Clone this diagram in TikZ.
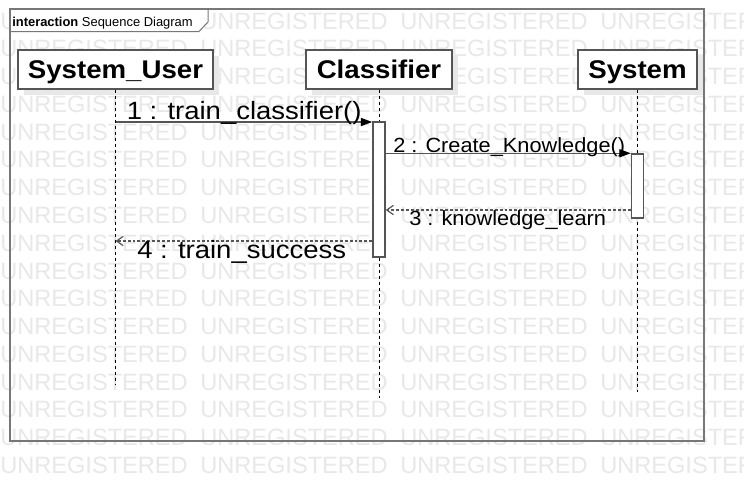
\documentclass[tikz,border=0pt]{standalone}
\usepackage{fontspec}
\setmainfont{Liberation Sans}
\newfontfamily\headfont[FakeStretch=1.08]{Liberation Sans}
\newfontfamily\bigmsgfont[FakeStretch=1.1]{Liberation Sans}
\newfontfamily\msgfont[FakeStretch=1.06]{Liberation Sans}
\usetikzlibrary{arrows.meta,shadows}
\definecolor{Frame}{HTML}{777777}
\definecolor{Edge}{HTML}{555555}
\definecolor{Shade}{HTML}{E8E8E8}
\definecolor{Stamp}{HTML}{E8E8E8}

\begin{document}
\begin{tikzpicture}[x=0.75pt, y=-0.75pt,
    head/.style={draw=Edge, line width=1.1pt, fill=white, inner sep=0pt, minimum height=29.25pt,
      text height=13.75pt, text depth=0pt,
      font=\headfont\bfseries\fontsize{19.2}{22}\selectfont,
      drop shadow={shadow xshift=4.5pt, shadow yshift=-4.5pt, fill=Shade, opacity=1}},
    act/.style={draw=Edge, line width=1.1pt, fill=white, inner sep=0pt, minimum width=9pt},
    life/.style={black, line width=0.7pt, dash pattern=on 2.25pt off 2.25pt},
    call/.style={Edge, line width=1.1pt, -{Triangle[length=8.5pt,width=6pt,color=black]}},
    reply/.style={Edge, line width=0.9pt, dash pattern=on 2.2pt off 1.5pt, -{Straight Barb[length=5pt,width=7pt]}},
    bigmsg/.style={anchor=base west, inner sep=0pt, font=\bigmsgfont\fontsize{18.75}{22}\selectfont},
    msg/.style={anchor=base west, inner sep=0pt, font=\msgfont\fontsize{15.4}{18}\selectfont},
    stamp/.style={anchor=west, inner sep=0pt, text=Stamp, font=\fontsize{17.7}{20}\selectfont}]
  \clip (0,0) rectangle (744,482);
  \fill[white] (0,0) rectangle (744,482);
  % watermark rows
  \foreach \r in {0,...,16}
    \foreach \c in {0,...,3}
      \node[stamp] (w-\r-\c) at (200*\c, 21+27.77*\r) {UNREGISTERED};
  % frame and its tab
  \filldraw[fill=white, draw=Frame, line width=0.75pt] (10,9) -- (208,9) -- (208,22) -- (199,31.5) -- (10,31.5) -- cycle;
  \draw[Frame, line width=1.5pt] (10,9) rectangle (704,441);
  \node[anchor=base west, inner sep=0pt, font=\fontsize{9.7}{11}\selectfont] (title) at (12,26) {\textbf{interaction} Sequence Diagram};
  % lifeline heads
  \node[head, minimum width=146.25pt] (user) at (115.5,69.5) {System\_User};
  \node[head, minimum width=109.5pt] (clf) at (379,69.5) {Classifier};
  \node[head, minimum width=89.25pt] (sys) at (637.5,69.5) {System};
  \coordinate (userend) at (115.5,385);
  \coordinate (clfend) at (379,398);
  \coordinate (sysend) at (637.5,392);
  \draw[life] (user.south) -- (userend);
  \draw[life] (clf.south) -- (clfend);
  \draw[life] (sys.south) -- (sysend);
  % activations
  \node[act, minimum height=101.25pt] (act1) at (379,189.5) {};
  \node[act, minimum height=48pt] (act2) at (637.5,186) {};
  % messages
  \coordinate (m1) at (115.5,122);
  \coordinate (m3) at (637.5,210);
  \coordinate (m4) at (115.5,241);
  \draw[call] (m1) -- (m1 -| act1.west);
  \draw[call] (act1.east |- act2.north) -- (act2.north west);
  \draw[reply] (m3 -| act2.west) -- (m3 -| act1.east);
  \draw[reply] (m4 -| act1.west) -- (m4);
  \node[bigmsg] (l1) at (126.5,119) {1 : train\_classifier()};
  \node[msg] (l2) at (393,152) {2 : Create\_Knowledge()};
  \node[msg] (l3) at (409,225.5) {3 : knowledge\_learn};
  \node[bigmsg] (l4) at (137,258) {4 : train\_success};
\end{tikzpicture}
\end{document}
